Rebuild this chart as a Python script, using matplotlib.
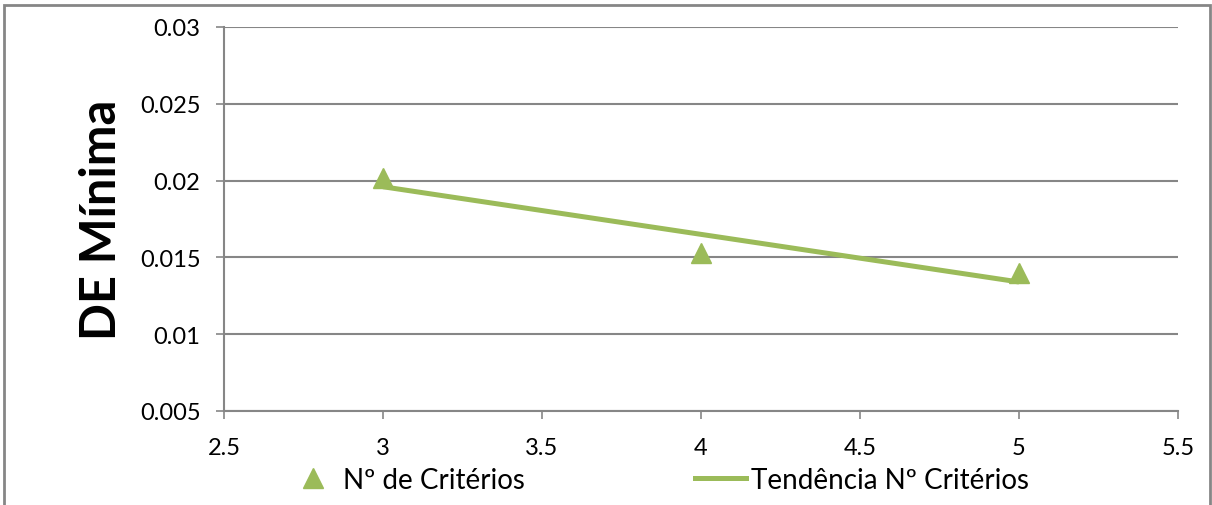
import numpy as np
import matplotlib.pyplot as plt
from matplotlib.patches import Rectangle
from matplotlib.lines import Line2D

# Number of criteria vs. minimum DE
criterios = [3, 4, 5]
de_minima = [0.0202, 0.0153, 0.0140]

x_ticks = [2.5, 3, 3.5, 4, 4.5, 5, 5.5]
y_ticks = [0.005, 0.01, 0.015, 0.02, 0.025, 0.03]

GREEN = "#9BBB59"
GRID = "#868686"

plt.rcParams["font.family"] = ["Lato", "DejaVu Sans"]

W, H = 1212, 506
fig = plt.figure(figsize=(W / 100, H / 100), dpi=100)
ax = fig.add_axes([224 / W, 1 - 412 / H, (1178 - 224) / W, (412 - 28) / H])

# linear trend through the points
coef = np.polyfit(criterios, de_minima, 1)
xs = np.array([min(criterios), max(criterios)])
trend = np.polyval(coef, xs)

ax.plot(criterios, de_minima, linestyle="none", marker="^", markersize=14,
        color=GREEN, zorder=3)
ax.plot(xs, trend, color=GREEN, linewidth=3.6, solid_capstyle="butt", zorder=4)

ax.set_xlim(2.5, 5.5)
ax.set_ylim(0.005, 0.03)
ax.set_xticks(x_ticks)
ax.set_yticks(y_ticks)
ax.set_xticklabels([f"{v:g}" for v in x_ticks])
ax.set_yticklabels([f"{v:g}" for v in y_ticks])

ax.yaxis.grid(True, color=GRID, linewidth=1.5)
ax.set_axisbelow(True)
for side in ("top", "right"):
    ax.spines[side].set_visible(False)
for side in ("left", "bottom"):
    ax.spines[side].set_color(GRID)
    ax.spines[side].set_linewidth(1.5)
ax.tick_params(axis="both", direction="out", length=6, width=1.2, color=GRID,
               labelsize=17, labelcolor="black")
ax.tick_params(axis="y", pad=11)
ax.tick_params(axis="x", pad=13)

fig.text(102 / W, 1 - 220 / H, "DE Mínima", rotation=90, ha="center",
         va="center", fontsize=35, fontweight="bold")

handles = [
    Line2D([], [], linestyle="none", marker="^", markersize=14, color=GREEN),
    Line2D([], [], color=GREEN, linewidth=3.6),
]
fig.legend(handles, ["Nº de Critérios", "Tendência Nº Critérios"],
           loc="center", bbox_to_anchor=(658 / W, 1 - 481 / H), ncol=2,
           frameon=False, fontsize=20, handlelength=1.85, handletextpad=0.18,
           columnspacing=6.1)

# chart-area border
fig.patches.append(Rectangle((4 / W, -10 / H), 1206 / W, (500 + 10) / H,
                             transform=fig.transFigure, fill=False,
                             edgecolor=GRID, linewidth=2))

fig.savefig("out.png", dpi=100)
